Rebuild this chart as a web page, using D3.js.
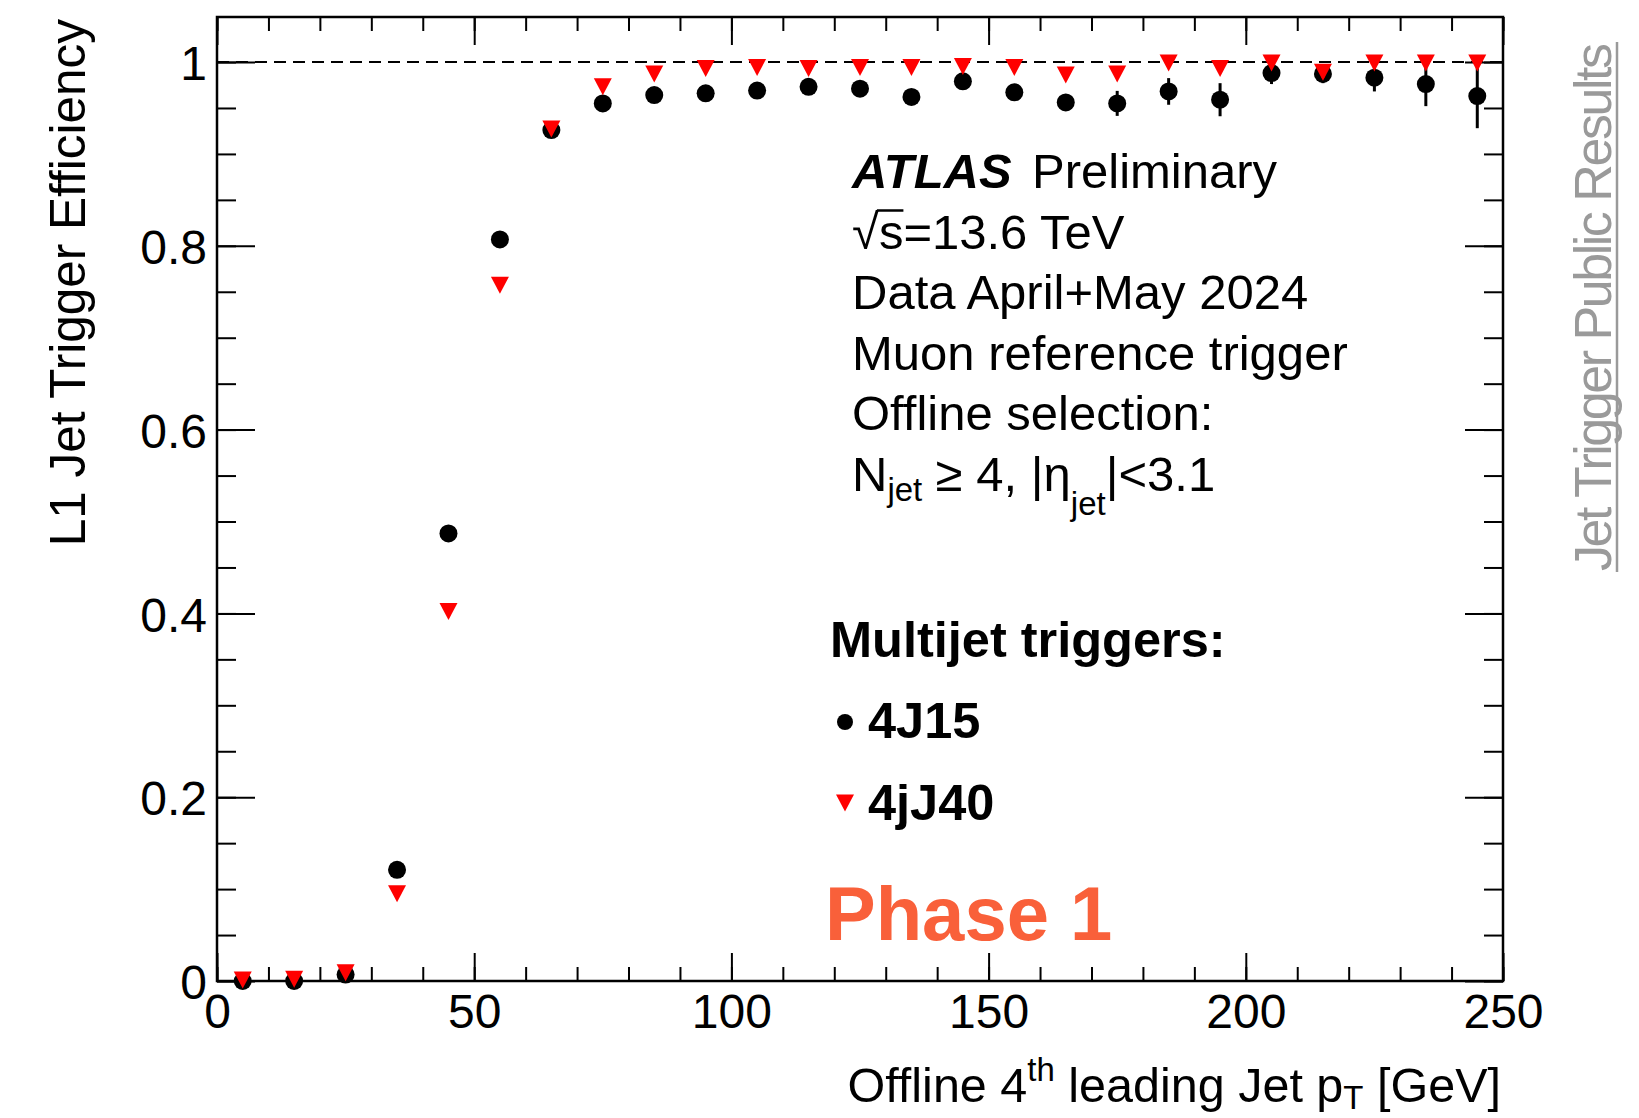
<!DOCTYPE html>
<html>
<head>
<meta charset="utf-8">
<script src="https://cdn.jsdelivr.net/npm/d3@7"></script>
<style>
body { margin: 0; background: #fff; }
text { font-family: "Liberation Sans", Arial, Helvetica, sans-serif; }
</style>
</head>
<body>
<svg></svg>
<script>
var w = 1639;
var h = 1118;
var frame = {left: 217, right: 1503, top: 17, bottom: 981};

// bin centres of the offline 4th jet pT histogram [GeV]
var binCenters = [5, 15, 25, 35, 45, 55, 65, 75, 85, 95, 105, 115, 125,
                  135, 145, 155, 165, 175, 185, 195, 205, 215, 225, 235, 245];

// 4J15 efficiency (black circles)
var eff4J15 = [0.000, 0.000, 0.007, 0.121, 0.487, 0.807, 0.926, 0.955, 0.964, 0.966, 0.969, 0.973, 0.971,
               0.962, 0.979, 0.967, 0.956, 0.955, 0.968, 0.959, 0.988, 0.987, 0.983, 0.976, 0.963];
var err4J15 = [0.000, 0.000, 0.003, 0.005, 0.006, 0.005, 0.004, 0.004, 0.004, 0.004, 0.004, 0.004, 0.005,
               0.006, 0.008, 0.008, 0.009, 0.0136, 0.0145, 0.018, 0.012, 0.010, 0.015, 0.024, 0.035];

// 4jJ40 efficiency (red triangles)
var eff4jJ40 = [0.001, 0.002, 0.009, 0.095, 0.402, 0.757, 0.927, 0.973, 0.987, 0.993, 0.994, 0.993, 0.994,
                0.994, 0.995, 0.994, 0.986, 0.987, 0.999, 0.993, 0.999, 0.989, 0.999, 0.999, 0.999];
var err4jJ40 = [0.000, 0.001, 0.002, 0.004, 0.006, 0.005, 0.003, 0.003, 0.003, 0.002, 0.002, 0.002, 0.002,
                0.002, 0.002, 0.003, 0.004, 0.005, 0.002, 0.004, 0.002, 0.006, 0.002, 0.002, 0.002];

var xMajorTicks = [0, 50, 100, 150, 200, 250];
var xTickLabels = ["0", "50", "100", "150", "200", "250"];
var yMajorTicks = [0, 0.2, 0.4, 0.6, 0.8, 1];
var yTickLabels = ["0", "0.2", "0.4", "0.6", "0.8", "1"];

var legendNames = ["4J15", "4jJ40"];

var svg = d3.select("svg")
            .attr("width", w)
            .attr("height", h);

svg.append("rect")
    .attr("width", w)
    .attr("height", h)
    .attr("fill", "#fff");

var xScale = d3.scaleLinear()
                .domain([0, 250])
                .range([frame.left, frame.right]);
var yScale = d3.scaleLinear()
                .domain([0, 1.049])
                .range([frame.bottom, frame.top]);

var xMinor = d3.range(0, 251, 10);
var yMinor = d3.range(0, 21).map(function(i){ return i * 0.05; });

function styleAxis(g) {
    g.select(".domain").remove();
    g.selectAll("line").attr("stroke", "#000").attr("stroke-width", 2);
    g.attr("font-family", null).attr("font-size", 48);
    g.selectAll("text").attr("fill", "#000");
}

// ticks on all four sides, pointing inwards (ROOT style)
svg.append("g")
    .attr("transform", "translate(0," + frame.bottom + ")")
    .call(d3.axisBottom(xScale).tickValues(xMinor).tickSize(-14).tickFormat(""))
    .call(styleAxis);
svg.append("g")
    .attr("transform", "translate(0," + frame.bottom + ")")
    .call(d3.axisBottom(xScale).tickValues(xMajorTicks).tickSize(-28).tickPadding(13)
            .tickFormat(function(d, i){ return xTickLabels[i]; }))
    .call(styleAxis);
svg.append("g")
    .attr("transform", "translate(0," + frame.top + ")")
    .call(d3.axisTop(xScale).tickValues(xMinor).tickSize(-14).tickFormat(""))
    .call(styleAxis);
svg.append("g")
    .attr("transform", "translate(0," + frame.top + ")")
    .call(d3.axisTop(xScale).tickValues(xMajorTicks).tickSize(-28).tickFormat(""))
    .call(styleAxis);

svg.append("g")
    .attr("transform", "translate(" + frame.left + ",0)")
    .call(d3.axisLeft(yScale).tickValues(yMinor).tickSize(-19).tickFormat(""))
    .call(styleAxis);
svg.append("g")
    .attr("transform", "translate(" + frame.left + ",0)")
    .call(d3.axisLeft(yScale).tickValues(yMajorTicks).tickSize(-38).tickPadding(10)
            .tickFormat(function(d, i){ return yTickLabels[i]; }))
    .call(styleAxis)
    .selectAll("text").attr("dy", "0.37em");
svg.append("g")
    .attr("transform", "translate(" + frame.right + ",0)")
    .call(d3.axisRight(yScale).tickValues(yMinor).tickSize(-19).tickFormat(""))
    .call(styleAxis);
svg.append("g")
    .attr("transform", "translate(" + frame.right + ",0)")
    .call(d3.axisRight(yScale).tickValues(yMajorTicks).tickSize(-38).tickFormat(""))
    .call(styleAxis);

// frame
svg.append("rect")
    .attr("x", frame.left)
    .attr("y", frame.top)
    .attr("width", frame.right - frame.left)
    .attr("height", frame.bottom - frame.top)
    .attr("fill", "none")
    .attr("stroke", "#000")
    .attr("stroke-width", 2.5);

// dashed line at efficiency = 1
svg.append("line")
    .attr("x1", xScale(0))
    .attr("x2", xScale(250))
    .attr("y1", yScale(1))
    .attr("y2", yScale(1))
    .attr("stroke", "#000")
    .attr("stroke-width", 2)
    .attr("stroke-dasharray", "12,7");

var canvas = svg.append("g");

var pts15 = binCenters.map(function(x, i){ return {x: x, y: eff4J15[i], e: err4J15[i]}; });
var pts40 = binCenters.map(function(x, i){ return {x: x, y: eff4jJ40[i], e: err4jJ40[i]}; });

function triangle(cx, cy, half, hh) {
    return "M" + (cx - half) + "," + (cy - hh) + "L" + (cx + half) + "," + (cy - hh) + "L" + cx + "," + (cy + hh) + "Z";
}

// 4J15: error bars then circles
canvas.selectAll("line.err15")
    .data(pts15)
    .join("line")
    .attr("class", "err15")
    .attr("x1", function(d){ return xScale(d.x); })
    .attr("x2", function(d){ return xScale(d.x); })
    .attr("y1", function(d){ return yScale(d.y - d.e); })
    .attr("y2", function(d){ return yScale(d.y + d.e); })
    .attr("stroke", "#000")
    .attr("stroke-width", 3);
canvas.selectAll("circle.m15")
    .data(pts15)
    .join("circle")
    .attr("class", "m15")
    .attr("cx", function(d){ return xScale(d.x); })
    .attr("cy", function(d){ return yScale(d.y); })
    .attr("r", 9)
    .attr("fill", "#000");

// 4jJ40: error bars then triangles
canvas.selectAll("line.err40")
    .data(pts40)
    .join("line")
    .attr("class", "err40")
    .attr("x1", function(d){ return xScale(d.x); })
    .attr("x2", function(d){ return xScale(d.x); })
    .attr("y1", function(d){ return yScale(d.y - d.e); })
    .attr("y2", function(d){ return yScale(d.y + d.e); })
    .attr("stroke", "#ff0000")
    .attr("stroke-width", 3);
canvas.selectAll("path.m40")
    .data(pts40)
    .join("path")
    .attr("class", "m40")
    .attr("d", function(d){ return triangle(xScale(d.x), yScale(d.y), 9, 8.5); })
    .attr("fill", "#ff0000");

// axis titles
svg.append("text")
    .attr("transform", "translate(85,19) rotate(-90)")
    .attr("text-anchor", "end")
    .attr("font-size", 49.5)
    .text("L1 Jet Trigger Efficiency");

var xTitle = svg.append("text")
    .attr("x", 1501)
    .attr("y", 1102)
    .attr("text-anchor", "end")
    .attr("font-size", 48.5);
xTitle.append("tspan").text("Offline 4");
xTitle.append("tspan").attr("font-size", 33).attr("dy", -21).text("th");
xTitle.append("tspan").attr("dy", 21).text(" leading Jet p");
xTitle.append("tspan").attr("font-size", 33).attr("dy", 7).text("T");
xTitle.append("tspan").attr("dy", -7).text(" [GeV]");

// ATLAS info block
var infoX = 852;
var lineGap = 60.5;
svg.append("text")
    .attr("x", infoX)
    .attr("y", 188)
    .attr("font-size", 49)
    .attr("font-weight", "bold")
    .attr("font-style", "italic")
    .text("ATLAS");
svg.append("text")
    .attr("x", 1032)
    .attr("y", 188)
    .attr("font-size", 49)
    .text("Preliminary");

var sLine = svg.append("text")
    .attr("x", infoX)
    .attr("y", 188 + lineGap)
    .attr("font-size", 49)
    .text("\u221As=13.6 TeV");
// bar of the square root over the "s"
var sNode = sLine.node();
var barX1 = sNode.getEndPositionOfChar(0).x - 2;
var barX2 = sNode.getEndPositionOfChar(1).x;
svg.append("line")
    .attr("x1", barX1)
    .attr("x2", barX2)
    .attr("y1", 188 + lineGap - 38)
    .attr("y2", 188 + lineGap - 38)
    .attr("stroke", "#000")
    .attr("stroke-width", 2.5);

var plainLines = ["Data April+May 2024", "Muon reference trigger", "Offline selection:"];
svg.selectAll("text.info")
    .data(plainLines)
    .join("text")
    .attr("class", "info")
    .attr("x", infoX)
    .attr("y", function(d, i){ return 188 + (i + 2) * lineGap; })
    .attr("font-size", 49)
    .text(function(d){ return d; });

var selLine = svg.append("text")
    .attr("x", infoX)
    .attr("y", 188 + 5 * lineGap)
    .attr("font-size", 49);
selLine.append("tspan").text("N");
selLine.append("tspan").attr("font-size", 33).attr("dy", 10).text("jet");
selLine.append("tspan").attr("dy", -10).text(" \u2265 4, |\u03B7");
selLine.append("tspan").attr("font-size", 33).attr("dy", 24).text("jet");
selLine.append("tspan").attr("dy", -24).text("|<3.1");

// legend
svg.append("text")
    .attr("x", 830)
    .attr("y", 657)
    .attr("font-size", 50.5)
    .attr("font-weight", "bold")
    .text("Multijet triggers:");

svg.append("circle")
    .attr("cx", 845)
    .attr("cy", 722)
    .attr("r", 8)
    .attr("fill", "#000");
svg.append("path")
    .attr("d", triangle(845, 803, 9, 8.5))
    .attr("fill", "#ff0000");

svg.selectAll("text.legend")
    .data(legendNames)
    .join("text")
    .attr("class", "legend")
    .attr("x", 868)
    .attr("y", function(d, i){ return 738 + i * 82; })
    .attr("font-size", 50.5)
    .attr("font-weight", "bold")
    .text(function(d){ return d; });

svg.append("text")
    .attr("x", 825)
    .attr("y", 940)
    .attr("font-size", 76)
    .attr("font-weight", "bold")
    .attr("fill", "#f9603a")
    .text("Phase 1");

// side label
svg.append("text")
    .attr("transform", "translate(1611,571) rotate(-90)")
    .attr("font-family", "Lato, 'Open Sans', sans-serif")
    .attr("font-size", 52)
    .attr("fill", "#9a9a9a")
    .attr("textLength", 528)
    .text("Jet Trigger Public Results");
svg.append("line")
    .attr("x1", 1617)
    .attr("x2", 1617)
    .attr("y1", 42)
    .attr("y2", 572)
    .attr("stroke", "#9a9a9a")
    .attr("stroke-width", 2.5);
</script>
</body>
</html>
